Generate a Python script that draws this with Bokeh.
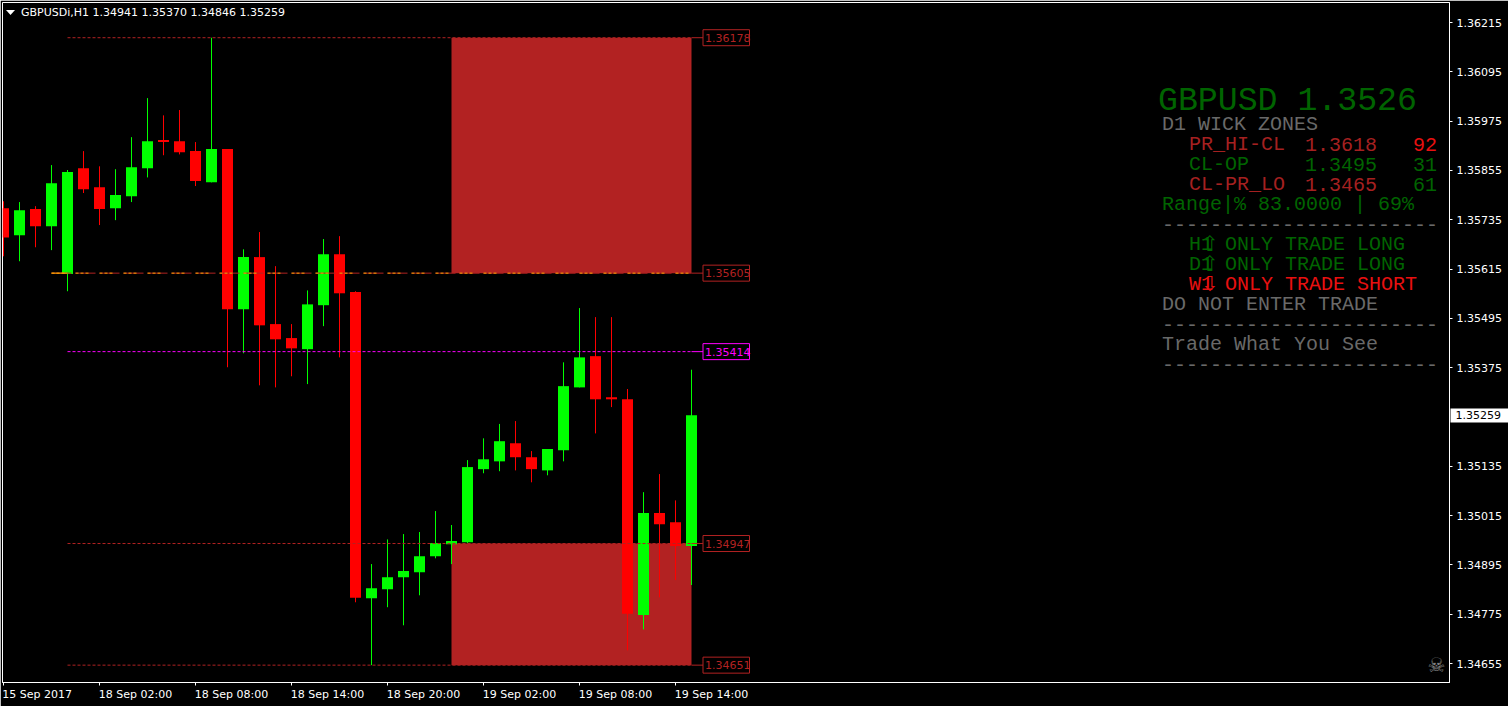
from bokeh.plotting import figure
from bokeh.embed import file_html
from bokeh.resources import INLINE
from bokeh.core.properties import value
from bokeh.models import Range1d, FixedTicker, PrintfTickFormatter, LinearAxis

opens = [1.35763,1.35697,1.35761,1.35719,1.35603,1.35860,1.35814,1.35763,1.35792,1.35860,1.35929,1.35926,1.35902,1.35826,1.35907,1.35517,1.35644,1.35481,1.35447,1.35420,1.35527,1.35651,1.35559,1.34814,1.34836,1.34865,1.34877,1.34916,1.34945,1.34950,1.35128,1.35147,1.35191,1.35157,1.35125,1.35174,1.35327,1.35403,1.35303,1.35298,1.34773,1.35021,1.34999,1.34941]
highs = [1.35780,1.35778,1.35768,1.35868,1.35856,1.35902,1.35865,1.35858,1.35936,1.36031,1.35989,1.36002,1.35924,1.36178,1.35907,1.35663,1.35705,1.35622,1.35481,1.35563,1.35688,1.35695,1.35561,1.34897,1.34957,1.34970,1.34975,1.35026,1.34992,1.35150,1.35203,1.35238,1.35245,1.35172,1.35177,1.35388,1.35520,1.35498,1.35498,1.35323,1.35072,1.35116,1.35052,1.35370]
lows = [1.35646,1.35634,1.35668,1.35661,1.35561,1.35800,1.35722,1.35734,1.35778,1.35838,1.35892,1.35894,1.35817,1.35826,1.35376,1.35410,1.35332,1.35327,1.35354,1.35335,1.35476,1.35400,1.34804,1.34651,1.34792,1.34748,1.34821,1.34911,1.34897,1.34948,1.35118,1.35123,1.35125,1.35096,1.35113,1.35147,1.35327,1.35215,1.35279,1.34687,1.34738,1.34816,1.34858,1.34846]
closes = [1.35692,1.35758,1.35719,1.35824,1.35851,1.35809,1.35761,1.35795,1.35863,1.35926,1.35924,1.35899,1.35829,1.35907,1.35517,1.35644,1.35478,1.35444,1.35422,1.35529,1.35651,1.35556,1.34815,1.34838,1.34865,1.34880,1.34916,1.34948,1.34953,1.35133,1.35152,1.35196,1.35157,1.35128,1.35177,1.35330,1.35400,1.35298,1.35298,1.34776,1.35021,1.34994,1.34941,1.35259]

y_ticks = [1.36215,1.36095,1.35975,1.35855,1.35735,1.35615,1.35495,1.35375,1.35135,1.35015,1.34895,1.34775,1.34655]
x_tick_pos = [0,6,12,18,24,30,36,42]
x_tick_labels = ["15 Sep 2017","18 Sep 02:00","18 Sep 08:00","18 Sep 14:00","18 Sep 20:00","19 Sep 02:00","19 Sep 08:00","19 Sep 14:00"]

zone_hi = [1.36178, 1.34947]
zone_lo = [1.35605, 1.34651]
levels = [1.36178, 1.35605, 1.35414, 1.34947, 1.34651]
level_names = ["1.36178", "1.35605", "1.35414", "1.34947", "1.34651"]
level_colors = ["#B22222", "#B22222", "#FF00FF", "#B22222", "#B22222"]
mid_level = 1.35605
header = "GBPUSDi,H1  1.34941 1.35370 1.34846 1.35259"
last_price = 1.35259

GREEN, DKGREEN, BRICK, RED, GRAY = "#00FF00", "#006400", "#A52020", "#E81010", "#696969"
panel_rows = [
    [("D1 WICK ZONES", 0, GRAY)],
    [("PR_HI-CL", 27, BRICK), ("1.3618", 143, BRICK), ("92", 251, RED)],
    [("CL-OP", 27, DKGREEN), ("1.3495", 143, DKGREEN), ("31", 251, DKGREEN)],
    [("CL-PR_LO", 27, BRICK), ("1.3465", 143, BRICK), ("61", 251, DKGREEN)],
    [("Range|% 83.0000 | 69%", 0, DKGREEN)],
    [("-----------------------", 0, GRAY)],
    [("H1 ONLY TRADE LONG", 27, DKGREEN)],
    [("D1 ONLY TRADE LONG", 27, DKGREEN)],
    [("W1 ONLY TRADE SHORT", 27, RED)],
    [("DO NOT ENTER TRADE", 0, GRAY)],
    [("-----------------------", 0, GRAY)],
    [("Trade What You See", 0, GRAY)],
    [("-----------------------", 0, GRAY)],
]
arrows = [(6, "\u21e7", DKGREEN), (7, "\u21e7", DKGREEN), (8, "\u21e9", RED)]

PXU, PYU = 16.0, 41090.0
def dx(px): return (px - 3.5) / PXU
def dy(py): return 1.36215 - (py - 22.5) / PYU
SX, SY = 0.5 / PXU, 0.5 / PYU

W, H = 1508, 706
L, R, T, B = 2, 59, 2, 24
p = figure(width=W, height=H, output_backend="svg", toolbar_location=None, tools="",
           x_range=Range1d(dx(L) + SX, dx(W - R) + SX), y_range=Range1d(dy(H - B) - SY, dy(T) - SY),
           min_border_left=L, min_border_right=R, min_border_top=T, min_border_bottom=B,
           background_fill_color="black", border_fill_color="black",
           outline_line_color="white", outline_line_width=1,
           x_axis_location="below", y_axis_location="right",
           styles={"position": "absolute", "left": "0px", "top": "0px"})
p.grid.visible = False

ax = p.xaxis[0]
ax.ticker = FixedTicker(ticks=x_tick_pos)
ax.major_label_overrides = {i: "" for i in x_tick_pos}
ay = p.yaxis[0]
ay.ticker = FixedTicker(ticks=y_ticks)
ay.formatter = PrintfTickFormatter(format="%.5f")
for a in (ax, ay):
    a.axis_line_color = "white"
    a.major_tick_line_color = "white"
    a.minor_tick_line_color = None
    a.major_tick_in = 0
    a.major_tick_out = 3
    a.major_label_standoff = 3
    a.major_label_text_color = "white"
    a.major_label_text_font = "DejaVu Sans"
    a.major_label_text_font_size = "11px"
ay.major_label_standoff = 4
ax.major_label_standoff = 0
ax.major_label_text_font_size = "1px"

# time labels start at their tick: a second axis holds them, half a label further right
centres = [i + (2.1 if i == 0 else 2.25) for i in x_tick_pos]
ax2 = LinearAxis(ticker=FixedTicker(ticks=centres),
                 major_label_overrides=dict(zip(centres, x_tick_labels)),
                 axis_line_color=None, major_tick_line_color=None, minor_tick_line_color=None,
                 major_tick_in=0, major_tick_out=0, major_label_standoff=2,
                 major_label_text_color="white", major_label_text_font="DejaVu Sans",
                 major_label_text_font_size="11px")
p.add_layout(ax2, "below")

# current price: one tick drawn as the white box, its label on top of it
ay2 = LinearAxis(ticker=FixedTicker(ticks=[last_price]),
                 formatter=PrintfTickFormatter(format="%.5f"),
                 axis_line_color=None, minor_tick_line_color=None,
                 major_tick_line_color="white", major_tick_line_width=14,
                 major_tick_in=54, major_tick_out=4, major_label_standoff=-53,
                 major_label_text_color="black", major_label_text_font="DejaVu Sans",
                 major_label_text_font_size="11px")
p.add_layout(ay2, "right")

p.quad(left=[28, 28], right=[43, 43], top=zone_hi, bottom=zone_lo,
       fill_color="#B22222", line_color=None)

idx = list(range(len(opens)))
colors = [GREEN if c >= o else "#FF0000" for o, c in zip(opens, closes)]
p.segment(idx, lows, idx, highs, line_color=colors, line_width=1)
p.vbar(x=idx, width=11 / PXU, top=[max(o, c) for o, c in zip(opens, closes)],
       bottom=[min(o, c) for o, c in zip(opens, closes)], fill_color=colors, line_color=None)

for lv, col in zip(levels, level_colors):
    if lv == mid_level:
        p.segment([3], [lv], [43], [lv], line_color="#B22222", line_width=1, line_dash="20 4")
        p.segment([3], [lv], [43], [lv], line_color="#FFA500", line_width=1, line_dash="3 2 3 2 3 11")
        p.segment([3], [lv], [4], [lv], line_color="#FFA500", line_width=1)
    else:
        p.segment([4], [lv], [43], [lv], line_color=col, line_width=1, line_dash="3 2")
    p.segment([43], [lv], [dx(703)], [lv], line_color=col, line_width=1)

for lv, name, col in zip(levels, level_names, level_colors):
    p.quad(left=[dx(703)], right=[dx(749.5)], top=[lv + 8 / PYU], bottom=[lv - 8 / PYU],
           fill_color="black", line_color=col, line_width=1)
    p.text([dx(705)], [lv], text=[name], text_color=col, text_font=value("DejaVu Sans"),
           text_font_size="11px", text_align="left", text_baseline="middle")

# header
p.patch([dx(6), dx(15), dx(10.5)], [dy(10), dy(10), dy(15)], fill_color="white", line_color=None)
p.text([dx(21)], [dy(12.5)], text=[header], text_color="white", text_font=value("DejaVu Sans"),
       text_font_size="11px", text_align="left", text_baseline="middle")

# info panel
MONO = value("Liberation Mono")
p.text([dx(1158)], [dy(101)], text=["GBPUSD 1.3526"], text_color=DKGREEN, text_font=MONO,
       text_font_size="33.2px", text_align="left", text_baseline="middle")
for i, row in enumerate(panel_rows):
    for txt, off, col in row:
        p.text([dx(1162 + off)], [dy(124 + 20 * i)], text=[txt], text_color=col, text_font=MONO,
               text_font_size="20px", text_align="left", text_baseline="middle")
for i, a, col in arrows:
    p.text([dx(1210)], [dy(124 + 20 * i)], text=[a], text_color=col, text_font=value("DejaVu Sans"),
           text_font_size="21px", text_align="center", text_baseline="middle")

p.text([dx(1436.5)], [dy(665)], text=["\u2620"], text_color="#808080", text_font=value("DejaVu Sans"),
       text_font_size="20px", text_align="center", text_baseline="middle")

open("out.html", "w").write(file_html(p, INLINE))
